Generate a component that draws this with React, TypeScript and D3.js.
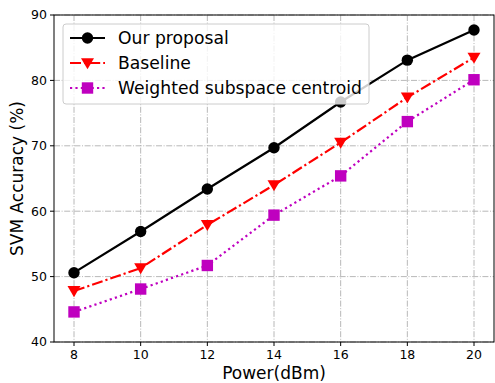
import React from 'react';
import * as d3 from 'd3';

const powers = [8, 10, 12, 14, 16, 18, 20];
const ourProposal = [50.6, 56.9, 63.4, 69.7, 76.7, 83.1, 87.7];
const baseline = [47.8, 51.3, 57.9, 64.0, 70.5, 77.4, 83.5];
const weighted = [44.6, 48.1, 51.7, 59.4, 65.4, 73.7, 80.1];
const yTicks = [40, 50, 60, 70, 80, 90];

const WIDTH = 495;
const HEIGHT = 383;
const margin = { top: 15, right: 1, bottom: 41, left: 54 };
const FONT = 'DejaVu Sans, sans-serif';

function Marker({ kind, x, y, color }: { kind: string; x: number; y: number; color: string })
{
    if (kind === 'circle')
    {
        return <circle cx={ x } cy={ y } r={ 5.7 } fill={ color } />;
    }
    if (kind === 'triangle')
    {
        const s = 6.5;
        return <path d={ `M${ x - s },${ y - s * 0.75 }L${ x + s },${ y - s * 0.75 }L${ x },${ y + s * 0.95 }Z` } fill={ color } />;
    }
    return <rect x={ x - 5.7 } y={ y - 5.7 } width={ 11.4 } height={ 11.4 } fill={ color } />;
}

export default function App()
{
    const innerW = WIDTH - margin.left - margin.right;
    const innerH = HEIGHT - margin.top - margin.bottom;
    const x = d3.scaleLinear().domain([7.4, 20.6]).range([margin.left, margin.left + innerW]);
    const y = d3.scaleLinear().domain([40, 90]).range([margin.top + innerH, margin.top]);

    const series = [
        { name: 'Our proposal', values: ourProposal, color: '#000000', dash: undefined, marker: 'circle' },
        { name: 'Baseline', values: baseline, color: '#ff0000', dash: '11,3,2.2,3', marker: 'triangle' },
        { name: 'Weighted subspace centroid', values: weighted, color: '#bf00bf', dash: '2.2,3.2', marker: 'square' },
    ];

    const line = d3.line<number>()
        .x((_, i) => x(powers[i]))
        .y((d) => y(d));

    const left = margin.left;
    const right = margin.left + innerW;
    const top = margin.top;
    const bottom = margin.top + innerH;

    return (
        <svg width={ WIDTH } height={ HEIGHT } style={ { position: 'absolute', left: 0, top: 0 } }>
            <rect width={ WIDTH } height={ HEIGHT } fill="#fff" />
            { powers.map((p) => (
                <line key={ 'gx' + p } x1={ x(p) } x2={ x(p) } y1={ top } y2={ bottom }
                    stroke="#b0b0b0" strokeWidth={ 0.9 } strokeDasharray="6,1.6,1,1.6" />
            )) }
            { yTicks.map((t) => (
                <line key={ 'gy' + t } x1={ left } x2={ right } y1={ y(t) } y2={ y(t) }
                    stroke="#b0b0b0" strokeWidth={ 0.9 } strokeDasharray="6,1.6,1,1.6" />
            )) }
            { series.map((s) => (
                <g key={ s.name }>
                    <path d={ line(s.values) ?? '' } fill="none" stroke={ s.color } strokeWidth={ 2.2 }
                        strokeDasharray={ s.dash } />
                    { s.values.map((v, i) => (
                        <Marker key={ i } kind={ s.marker } x={ x(powers[i]) } y={ y(v) } color={ s.color } />
                    )) }
                </g>
            )) }
            <rect x={ left } y={ top } width={ innerW } height={ innerH } fill="none" stroke="#000" strokeWidth={ 1 } />
            { powers.map((p) => (
                <g key={ 'tx' + p }>
                    <line x1={ x(p) } x2={ x(p) } y1={ bottom } y2={ bottom + 4 } stroke="#000" />
                    <text x={ x(p) } y={ bottom + 17 } textAnchor="middle" fontFamily={ FONT } fontSize={ 12.5 }>{ p }</text>
                </g>
            )) }
            { yTicks.map((t) => (
                <g key={ 'ty' + t }>
                    <line x1={ left - 4 } x2={ left } y1={ y(t) } y2={ y(t) } stroke="#000" />
                    <text x={ left - 7 } y={ y(t) } dy="0.35em" textAnchor="end" fontFamily={ FONT } fontSize={ 12.5 }>{ t }</text>
                </g>
            )) }
            <text x={ (left + right) / 2 } y={ 379 } textAnchor="middle" fontFamily={ FONT } fontSize={ 17 }>Power(dBm)</text>
            <text transform={ `translate(23,${ (top + bottom) / 2 }) rotate(-90)` } textAnchor="middle"
                fontFamily={ FONT } fontSize={ 17 }>SVM Accuracy (%)</text>
            <g>
                <rect x={ 63 } y={ 24 } width={ 306 } height={ 80 } rx={ 3 } fill="#fff" fillOpacity={ 0.8 }
                    stroke="#cccccc" strokeWidth={ 1 } />
                { series.map((s, i) => {
                    const ly = 38 + i * 25;
                    return (
                        <g key={ 'lg' + s.name }>
                            <line x1={ 70 } x2={ 105 } y1={ ly } y2={ ly } stroke={ s.color } strokeWidth={ 2.2 }
                                strokeDasharray={ s.dash } />
                            <Marker kind={ s.marker } x={ 87.5 } y={ ly } color={ s.color } />
                            <text x={ 118 } y={ ly } dy="0.36em" fontFamily={ FONT } fontSize={ 17.2 }>{ s.name }</text>
                        </g>
                    );
                }) }
            </g>
        </svg>
    );
}
